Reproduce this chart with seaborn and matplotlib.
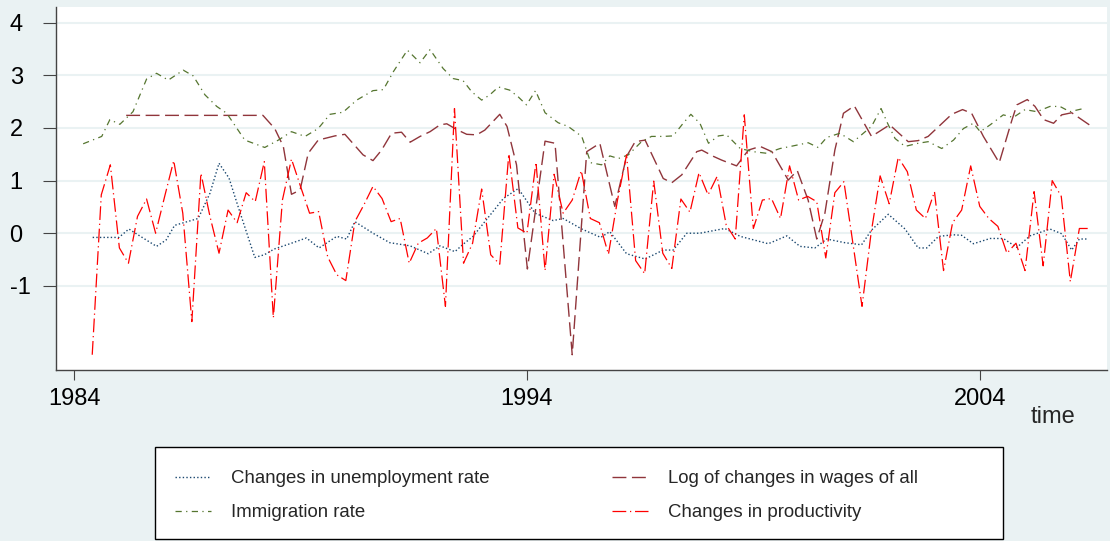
import numpy as np
import pandas as pd
import matplotlib
matplotlib.use("Agg")
import matplotlib.pyplot as plt
from matplotlib.patches import Rectangle
import seaborn as sns

# ------------------------
# Data
# ------------------------

# productivity: one value every 0.2 years, 1984.4 .. 2006.4
prod_time = np.round(np.arange(1984.4, 2006.41, 0.2), 1)
prod_vals = [
    -2.31, 0.73, 1.30,
    -0.28, -0.57, 0.32, 0.65, 0.00,
    0.70, 1.38, 0.38, -1.68, 1.14,
    0.32, -0.38, 0.44, 0.20, 0.77,
    0.60, 1.36, -1.61, 0.63, 1.41,
    0.89, 0.38, 0.41, -0.45, -0.79,
    -0.90, 0.22, 0.54, 0.89, 0.66,
    0.22, 0.28, -0.57, -0.19, -0.09,
    0.09, -1.39, 2.37, -0.57, -0.19,
    0.84, -0.41, -0.59, 1.51, 0.10,
    0.00, 1.35, -0.71, 1.12, 0.38,
    0.63, 1.19, 0.28, 0.20, -0.40,
    0.63, 1.49, -0.52, -0.77, 0.99,
    -0.38, -0.67, 0.65, 0.40, 1.15,
    0.73, 1.08, 0.16, -0.11, 2.25,
    0.09, 0.63, 0.66, 0.28, 1.28,
    0.63, 0.70, 0.60, -0.47, 0.77,
    0.98, -0.20, -1.39, 0.00, 1.09,
    0.56, 1.44, 1.17, 0.44, 0.28,
    0.79, -0.71, 0.20, 0.44, 1.28,
    0.51, 0.28, 0.13, -0.38, -0.19,
    -0.71, 0.79, -0.62, 1.00, 0.70,
    -0.92, 0.09, 0.09,
]

unemp_time = [1984.41, 1984.99, 1985.21, 1985.41, 1985.82, 1986.03, 1986.22, 1986.74,
              1987.00, 1987.20, 1987.42, 1987.62, 1987.99, 1988.20, 1988.42, 1988.80,
              1989.13, 1989.41, 1989.80, 1990.02, 1990.20, 1990.60, 1990.97, 1991.42,
              1991.82, 1992.08, 1992.41, 1992.59, 1992.81, 1993.48, 1993.81, 1994.18,
              1994.58, 1994.80, 1995.21, 1995.63, 1995.83, 1996.20, 1996.61, 1997.01,
              1997.23, 1997.53, 1997.82, 1998.37, 1998.71, 1999.33, 1999.74, 2000.03,
              2000.36, 2000.62, 2001.02, 2001.39, 2001.61, 2001.98, 2002.35, 2002.64,
              2002.83, 2003.09, 2003.42, 2003.60, 2003.86, 2004.23, 2004.52, 2004.82,
              2005.11, 2005.55, 2005.81, 2006.03, 2006.20, 2006.36]
unemp_vals = [-0.08, -0.08, 0.08, -0.03, -0.25, -0.13, 0.15, 0.28,
              0.76, 1.33, 1.05, 0.51, -0.46, -0.41, -0.30, -0.19,
              -0.09, -0.28, -0.06, -0.11, 0.22, 0.00, -0.18, -0.24,
              -0.39, -0.24, -0.35, -0.21, -0.06, 0.66, 0.85, 0.38,
              0.24, 0.28, 0.08, -0.08, 0.03, -0.39, -0.49, -0.32,
              -0.32, 0.00, 0.00, 0.09, -0.06, -0.20, -0.05, -0.25,
              -0.28, -0.11, -0.18, -0.22, 0.06, 0.36, 0.08, -0.28,
              -0.28, -0.06, -0.03, -0.04, -0.20, -0.10, -0.10, -0.27,
              -0.05, 0.08, -0.01, -0.32, -0.11, -0.11]

immig_time = [1984.20, 1984.61, 1984.79, 1985.01, 1985.30, 1985.60, 1985.82, 1986.08,
              1986.41, 1986.63, 1986.89, 1987.15, 1987.37, 1987.77, 1988.21, 1988.51,
              1988.80, 1989.10, 1989.39, 1989.65, 1989.94, 1990.24, 1990.60, 1990.83,
              1991.05, 1991.36, 1991.64, 1991.86, 1992.15, 1992.37, 1992.59, 1992.78,
              1993.00, 1993.18, 1993.37, 1993.62, 1993.81, 1993.99, 1994.19, 1994.40,
              1994.69, 1994.91, 1995.21, 1995.41, 1995.65, 1995.83, 1996.02, 1996.24,
              1996.53, 1996.75, 1997.01, 1997.23, 1997.45, 1997.62, 1997.82, 1998.01,
              1998.23, 1998.41, 1998.71, 1999.00, 1999.29, 1999.59, 1999.88, 2000.21,
              2000.43, 2000.62, 2000.91, 2001.21, 2001.47, 2001.61, 2001.82, 2001.98,
              2002.13, 2002.35, 2002.64, 2002.86, 2003.16, 2003.42, 2003.64, 2003.86,
              2004.01, 2004.23, 2004.52, 2004.74, 2005.00, 2005.26, 2005.55, 2005.77,
              2005.99, 2006.29]
immig_vals = [1.70, 1.84, 2.16, 2.07, 2.31, 2.93, 3.04, 2.91,
              3.10, 2.99, 2.63, 2.41, 2.28, 1.77, 1.63, 1.77,
              1.93, 1.84, 1.99, 2.26, 2.30, 2.53, 2.71, 2.73,
              3.07, 3.48, 3.24, 3.49, 3.13, 2.94, 2.90, 2.69,
              2.53, 2.63, 2.78, 2.72, 2.59, 2.44, 2.71, 2.29,
              2.10, 2.03, 1.84, 1.34, 1.30, 1.47, 1.42, 1.49,
              1.74, 1.84, 1.84, 1.85, 2.09, 2.26, 2.09, 1.71,
              1.85, 1.87, 1.61, 1.55, 1.52, 1.61, 1.66, 1.72,
              1.63, 1.82, 1.90, 1.74, 1.93, 2.03, 2.37, 2.06,
              1.80, 1.65, 1.71, 1.74, 1.61, 1.77, 1.99, 2.09,
              1.93, 2.06, 2.25, 2.20, 2.35, 2.31, 2.41, 2.41,
              2.31, 2.37]

wage_time = [1985.15, 1988.17, 1988.43, 1988.62, 1988.80, 1988.99, 1989.17, 1989.39,
             1989.76, 1989.98, 1990.38, 1990.60, 1990.79, 1991.01, 1991.23, 1991.42,
             1991.64, 1991.86, 1992.08, 1992.23, 1992.45, 1992.67, 1992.89, 1993.07,
             1993.40, 1993.56, 1993.77, 1994.01, 1994.40, 1994.62, 1995.00, 1995.32,
             1995.61, 1995.94, 1996.20, 1996.39, 1996.61, 1997.01, 1997.20, 1997.42,
             1997.75, 1997.86, 1998.12, 1998.30, 1998.63, 1998.89, 1999.15, 1999.41,
             1999.77, 1999.97, 2000.21, 2000.40, 2000.58, 2000.80, 2000.99, 2001.23,
             2001.61, 2002.01, 2002.42, 2002.64, 2002.86, 2003.38, 2003.62, 2003.82,
             2004.08, 2004.43, 2004.71, 2004.82, 2005.05, 2005.22, 2005.41, 2005.63,
             2005.81, 2006.03, 2006.42]
wage_vals = [2.24, 2.24, 1.99, 1.65, 0.74, 0.82, 1.52, 1.77,
             1.85, 1.88, 1.49, 1.38, 1.58, 1.90, 1.92, 1.73,
             1.84, 1.93, 2.06, 2.08, 1.97, 1.88, 1.87, 1.96,
             2.26, 2.03, 1.30, -0.68, 1.75, 1.71, -2.31, 1.55,
             1.71, 0.51, 1.46, 1.74, 1.77, 1.04, 0.96, 1.11,
             1.55, 1.58, 1.46, 1.39, 1.28, 1.58, 1.65, 1.55,
             1.01, 1.19, 0.63, -0.11, 0.38, 1.58, 2.28, 2.42,
             1.84, 2.06, 1.74, 1.76, 1.84, 2.26, 2.35, 2.28,
             1.84, 1.34, 2.15, 2.44, 2.54, 2.41, 2.16, 2.09,
             2.25, 2.29, 2.06]

y_ticks = [-1, 0, 1, 2, 3, 4]
x_ticks = [1984, 1994, 2004]

# ------------------------
# Style
# ------------------------

sns.set_style("white")
plt.rcParams["font.family"] = ["Liberation Sans", "DejaVu Sans"]
plt.rcParams["axes.unicode_minus"] = False

bg = "#eaf2f3"
W, H = 1110, 541

fig = plt.figure(figsize=(W / 100, H / 100), dpi=100, facecolor=bg)
ax = fig.add_axes([56 / W, (H - 370) / H, (1107 - 56) / W, (370 - 7) / H])
ax.set_facecolor("white")

sns.lineplot(x=unemp_time, y=unemp_vals, ax=ax, color="#1a476f", lw=1.0,
             linestyle=(0, (1, 1.6)), label="Changes in unemployment rate")
sns.lineplot(x=wage_time, y=wage_vals, ax=ax, color="#90353b", lw=1.0,
             linestyle=(0, (10, 4)), label="Log of changes in wages of all")
sns.lineplot(x=immig_time, y=immig_vals, ax=ax, color="#55752f", lw=0.9,
             linestyle=(0, (5, 3.5, 1, 3.5)), label="Immigration rate")
sns.lineplot(x=list(prod_time), y=prod_vals, ax=ax, color="#ff0000", lw=0.9,
             linestyle=(0, (11, 3, 1, 3)), label="Changes in productivity")

ax.set_xlim(1983.6, 2006.81)
ax.set_ylim(-2.6, 4.3)
ax.set_yticks(y_ticks)
ax.set_yticklabels([str(v) for v in y_ticks])
ax.set_xticks(x_ticks)
ax.set_xticklabels([str(v) for v in x_ticks])
ax.set_xlabel("")
ax.set_ylabel("")

ax.yaxis.grid(True, color=bg, lw=1.5)
ax.xaxis.grid(False)
ax.set_axisbelow(True)

for s in ["top", "right"]:
    ax.spines[s].set_visible(False)
for s in ["left", "bottom"]:
    ax.spines[s].set_color("#444444")
    ax.spines[s].set_linewidth(1.0)

ax.tick_params(axis="y", left=True, length=9.4, width=0.8, color="#444444",
               pad=24, labelsize=17, labelcolor="black")
ax.tick_params(axis="x", bottom=True, length=7, width=0.8, color="#444444",
               pad=6, labelsize=17, labelcolor="black")
for lab in ax.get_yticklabels():
    lab.set_horizontalalignment("left")

fig.text(1053 / W, 1 - 417 / H, "time", ha="center", va="center", fontsize=17)

# ------------------------
# Legend
# ------------------------

handles, labels = ax.get_legend_handles_labels()
ax.get_legend().remove()
order = [0, 2, 1, 3]

fig.patches.append(Rectangle((155 / W, 2 / H), 848 / W, 92 / H,
                             transform=fig.transFigure, facecolor="white",
                             edgecolor="black", lw=1.0, zorder=0))

fig.legend([handles[i] for i in order], [labels[i] for i in order],
           loc="upper left", bbox_to_anchor=(175 / W, 1 - 470 / H),
           frameon=False, ncol=2, fontsize=13.4, handlelength=1.95,
           handletextpad=1.07, columnspacing=6.55, labelspacing=0.93,
           borderpad=0, borderaxespad=0)

fig.savefig("out.png", dpi=100, facecolor=bg)
